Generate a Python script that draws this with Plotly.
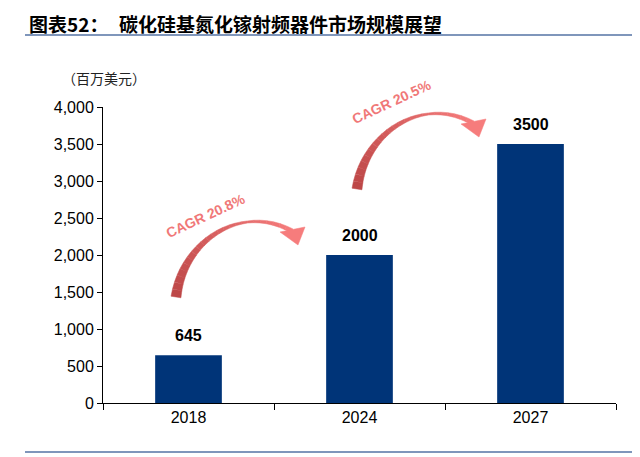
import plotly.graph_objects as go

years = ['2018', '2024', '2027']
market_size = [645, 2000, 3500]
y_ticks = [0, 500, 1000, 1500, 2000, 2500, 3000, 3500, 4000]
cagr_labels = ['CAGR 20.8%', 'CAGR 20.5%']

BAR_COLOUR = '#003478'
RULE_COLOUR = '#7f96bb'
ARROW_TEXT = 'rgb(240,120,120)'
NUM_FONT = 'Liberation Sans, Arial, sans-serif'
CJK_FONT = 'Noto Sans CJK SC, sans-serif'

# the page body has an 8px margin, so the figure starts at (8, 8)
OFF = 8
FIG_W, FIG_H = 640 - OFF, 457 - OFF
# plot area in page pixels
L, R, T, B = 103, 616, 107, 403
W, H = R - L, B - T


def px(x, y):
    """page pixel -> paper coords"""
    return (x - L) / W, (B - y) / H


def bezier(p, t):
    a = (1 - t) ** 3
    b = 3 * (1 - t) ** 2 * t
    c = 3 * (1 - t) * t ** 2
    d = t ** 3
    return (a * p[0][0] + b * p[1][0] + c * p[2][0] + d * p[3][0],
            a * p[0][1] + b * p[1][1] + c * p[2][1] + d * p[3][1])


def width_at(t):
    pts = [(0, 10), (0.35, 5.5), (0.7, 2), (1, 4.5)]
    for (t0, w0), (t1, w1) in zip(pts, pts[1:]):
        if t <= t1:
            return w0 + (w1 - w0) * (t - t0) / (t1 - t0)
    return pts[-1][1]


def colour_at(t):
    c0, c1 = (188, 70, 70), (246, 124, 124)
    return 'rgb(%d,%d,%d)' % tuple(round(a + (b - a) * t) for a, b in zip(c0, c1))


def path_str(points):
    s = ''
    for i, (x, y) in enumerate(points):
        xp, yp = px(x, y)
        s += ('M' if i == 0 else 'L') + '%.4f,%.4f ' % (xp, yp)
    return s + 'Z'


def arrow_shapes(dx, dy):
    ctrl = [(176 + dx, 297 + dy), (183 + dx, 240 + dy), (242 + dx, 203 + dy), (292 + dx, 231 + dy)]
    n = 24
    samples = []
    for i in range(n + 1):
        t = i / n
        x, y = bezier(ctrl, t)
        samples.append((t, x, y))
    shapes = []
    for i in range(n):
        t0, x0, y0 = samples[i]
        t1, x1, y1 = samples[i + 1]
        tx, ty = x1 - x0, y1 - y0
        ln = (tx ** 2 + ty ** 2) ** 0.5
        nx_, ny_ = -ty / ln, tx / ln
        w0, w1 = width_at(t0) / 2, width_at(t1) / 2
        poly = [(x0 + nx_ * w0, y0 + ny_ * w0), (x1 + nx_ * w1, y1 + ny_ * w1),
                (x1 - nx_ * w1, y1 - ny_ * w1), (x0 - nx_ * w0, y0 - ny_ * w0)]
        col = colour_at((t0 + t1) / 2)
        shapes.append(dict(type='path', xref='paper', yref='paper', path=path_str(poly),
                           fillcolor=col, line=dict(color=col, width=0.5), layer='above'))
    head = [(280 + dx, 232 + dy), (305 + dx, 227 + dy), (298 + dx, 245 + dy)]
    shapes.append(dict(type='path', xref='paper', yref='paper', path=path_str(head),
                       fillcolor=colour_at(1), line=dict(color=colour_at(1), width=0.5),
                       layer='above'))
    return shapes


fig = go.Figure(go.Bar(x=years, y=market_size, marker=dict(color=BAR_COLOUR, line=dict(width=0)),
                       hoverinfo='skip'))

annotations = []
for i, val in enumerate(market_size):
    annotations.append(dict(x=i, y=val, text=str(val), showarrow=False, yshift=20,
                            xanchor='center', yanchor='middle',
                            font=dict(family=NUM_FONT, size=16, color='black', weight='bold')))

for label, (cx, cy) in zip(cagr_labels, [(205, 216), (391, 102)]):
    xp, yp = px(cx, cy)
    annotations.append(dict(x=xp, y=yp, xref='paper', yref='paper', text=label, showarrow=False,
                            xanchor='center', yanchor='middle', textangle=-25,
                            font=dict(family=NUM_FONT, size=14, color=ARROW_TEXT, weight='bold')))


def page_text(x, y, text, size, bold=True, colour='black'):
    xp, yp = px(x, y)
    return dict(x=xp, y=yp, xref='paper', yref='paper', xanchor='left', yanchor='middle',
                text=text, showarrow=False,
                font=dict(family=CJK_FONT, size=size, color=colour,
                          weight='bold' if bold else 'normal'))


annotations.append(page_text(27, 23, '图表52：', 19))
annotations.append(page_text(117, 23, '碳化硅基氮化镓射频器件市场规模展望', 19))
annotations.append(page_text(60, 78, '（百万美元）', 14, bold=False, colour='#222'))

shapes = arrow_shapes(0, 0) + arrow_shapes(181, -108)
for yline in (35, 452):
    x0, y0 = px(25, yline)
    x1, _ = px(632, yline)
    shapes.append(dict(type='line', xref='paper', yref='paper', x0=x0, x1=x1, y0=y0, y1=y0,
                       line=dict(color=RULE_COLOUR, width=2)))

fig.update_layout(
    width=FIG_W, height=FIG_H,
    margin=dict(l=L - OFF, r=640 - R, t=T - OFF, b=457 - B),
    paper_bgcolor='white', plot_bgcolor='white',
    bargap=0.61, showlegend=False,
    annotations=annotations, shapes=shapes,
    font=dict(family=NUM_FONT, size=16, color='black'),
)
fig.update_xaxes(type='category', showline=True, linecolor='black', linewidth=1,
                 ticks='outside', tickson='boundaries', ticklen=6, tickcolor='black',
                 showgrid=False, tickfont=dict(size=16))
fig.update_yaxes(range=[0, 4000], tickvals=y_ticks, tickformat=',', showline=True,
                 linecolor='black', linewidth=1, ticks='outside', ticklen=5, tickcolor='black',
                 showgrid=False, zeroline=False, tickfont=dict(size=16))

fig.write_html("out.html")
